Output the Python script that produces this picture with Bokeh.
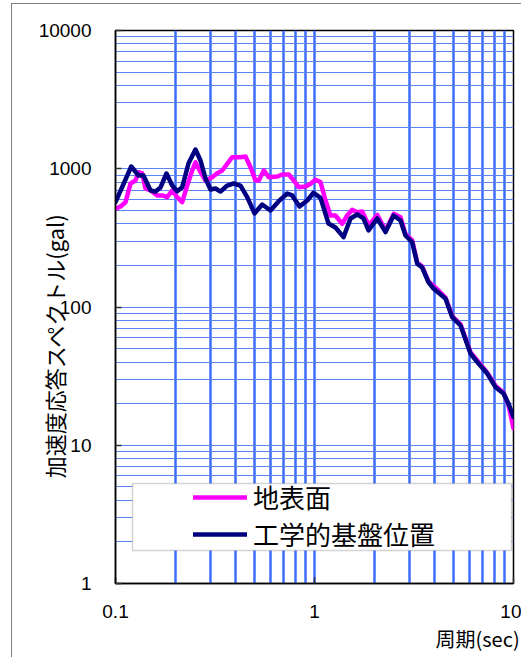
from bokeh.plotting import figure
from bokeh.models import Range1d, FixedTicker, Legend, LegendItem, BoxAnnotation, Title
from bokeh.embed import file_html
from bokeh.resources import INLINE

# ---- data ----
period_surface = [0.100, 0.1060, 0.1123, 0.1190, 0.1260, 0.1305, 0.1362, 0.1415, 0.150, 0.1620,
                  0.1717, 0.1819, 0.1927, 0.2042, 0.2164, 0.2292, 0.2429, 0.2523, 0.2674, 0.2834,
                  0.3061, 0.3244, 0.3438, 0.3642, 0.3859, 0.4247, 0.4501, 0.4769, 0.5052, 0.5249,
                  0.5563, 0.5893, 0.6496, 0.6882, 0.7429, 0.7870, 0.8341, 0.9012, 0.9548, 1.0116,
                  1.072, 1.136, 1.203, 1.275, 1.378, 1.460, 1.547, 1.639, 1.737, 1.875,
                  2.066, 2.275, 2.503, 2.705, 2.866, 3.097, 3.282, 3.477, 3.741, 4.055,
                  4.552, 4.920, 5.418, 6.079, 6.670, 7.378, 8.120, 8.906, 9.438, 10.0]
accel_surface = [513, 533, 573, 782, 822, 944, 924, 720, 696, 641,
                 641, 623, 696, 623, 573, 756, 971, 1115, 944, 822,
                 869, 929, 971, 1086, 1213, 1213, 1227, 1026, 822, 822,
                 971, 869, 879, 908, 908, 822, 736, 744, 778, 832,
                 800, 589, 459, 459, 400, 459, 505, 485, 491, 389,
                 464, 358, 472, 446, 338, 303, 210, 196, 153, 138,
                 117, 86, 75, 47, 40, 33.5, 27, 24, 19.5, 13.2]

period_base = [0.100, 0.120, 0.1305, 0.1382, 0.150, 0.1589, 0.1684, 0.1804, 0.1927, 0.2042,
               0.2164, 0.2327, 0.2523, 0.2674, 0.2834, 0.3001, 0.3181, 0.3371, 0.3642, 0.3917,
               0.4247, 0.4590, 0.4994, 0.5460, 0.6010, 0.6594, 0.7292, 0.7726, 0.8408, 0.9191,
               0.9886, 1.072, 1.176, 1.275, 1.399, 1.517, 1.639, 1.763, 1.868, 2.066,
               2.275, 2.495, 2.705, 2.866, 3.097, 3.282, 3.477, 3.741, 3.963, 4.552,
               4.920, 5.418, 6.079, 6.670, 7.378, 8.120, 8.906, 9.438, 10.0]
accel_base = [573, 1038, 894, 894, 696, 684, 732, 924, 756, 688,
              736, 1091, 1378, 1147, 850, 708, 720, 684, 756, 782,
              756, 623, 475, 551, 499, 580, 662, 641, 533, 589,
              670, 615, 402, 376, 320, 437, 467, 437, 358, 437,
              348, 459, 422, 329, 294, 206, 193, 151, 136, 115,
              84.4, 73.5, 46.1, 39.0, 33.0, 26.3, 23.7, 20.0, 16.0]

series_names = ["地表面", "工学的基盤位置"]
series_colors = ["#ff00ff", "#000080"]

x_major = [0.1, 1.0, 10.0]
x_minor = [0.2, 0.3, 0.4, 0.5, 0.6, 0.7, 0.8, 0.9, 2.0, 3.0, 4.0, 5.0, 6.0, 7.0, 8.0, 9.0]
x_labels = ["0.1", "1", "10"]
y_major = [1.0, 10.0, 100.0, 1000.0, 10000.0]
y_minor = [m * d for d in [1, 10, 100, 1000] for m in [2, 3, 4, 5, 6, 7, 8, 9]]
y_labels = ["1", "10", "100", "1000", "10000"]

x_title = "周期(sec)"
y_title = "加速度応答スペクトル(gal)"

CJK = "Noto Sans CJK JP"

# ---- figure ----
p = figure(width=510, height=654, x_axis_type="log", y_axis_type="log",
           x_range=Range1d(0.1, 10), y_range=Range1d(1, 10000),
           output_backend="svg", toolbar_location=None,
           min_border_left=103, min_border_right=9, min_border_top=26, min_border_bottom=75)
# outer chart-area frame (grey line at left and top)
p.styles = {"margin-top": "3px", "margin-left": "11px",
            "border-top": "1px solid #7f7f7f", "border-left": "1px solid #7f7f7f"}
p.background_fill_color = "white"
p.border_fill_color = "white"
p.outline_line_color = "black"
p.outline_line_width = 1.5

xt = FixedTicker(ticks=x_major, minor_ticks=x_minor)
yt = FixedTicker(ticks=y_major, minor_ticks=y_minor)
p.xaxis.ticker = xt
p.yaxis.ticker = yt
p.xgrid.ticker = xt
p.ygrid.ticker = yt
p.xaxis.major_label_overrides = {float(v): s for v, s in zip(x_major, x_labels)}
p.yaxis.major_label_overrides = {float(v): s for v, s in zip(y_major, y_labels)}

for ax in (p.xaxis, p.yaxis):
    ax.major_tick_in = 6
    ax.major_tick_out = 0
    ax.major_tick_line_color = "#333333"
    ax.major_tick_line_width = 1.5
    ax.minor_tick_line_color = None
    ax.axis_line_color = "black"
    ax.axis_line_width = 1.5
    ax.major_label_text_font = "Liberation Sans"
    ax.major_label_text_font_size = "19px"
    ax.major_label_text_color = "black"
p.yaxis.major_label_standoff = 20
p.xaxis.major_label_standoff = 17

# y title drawn as the axis label, pulled in over the tick labels
p.yaxis.axis_label = y_title + "\u3000\u3000\u3000\u2002"
p.yaxis.axis_label_standoff = -34
p.yaxis.axis_label_text_font = CJK
p.yaxis.axis_label_text_font_size = "22px"
p.yaxis.axis_label_text_font_style = "normal"
p.yaxis.axis_label_text_color = "black"

p.xgrid.grid_line_color = "#3d6dff"
p.xgrid.grid_line_width = 2.5
p.xgrid.minor_grid_line_color = "#3d6dff"
p.xgrid.minor_grid_line_width = 2.5
p.ygrid.grid_line_color = "#5b84f2"
p.ygrid.grid_line_width = 1.2
p.ygrid.minor_grid_line_color = "#5b84f2"
p.ygrid.minor_grid_line_width = 1.2

r1 = p.line(period_surface, accel_surface, line_color=series_colors[0], line_width=4.5,
            line_cap="round", line_join="round")
r2 = p.line(period_base, accel_base, line_color=series_colors[1], line_width=4.5,
            line_cap="round", line_join="round")

box = BoxAnnotation(left=17, right=396, bottom=33, top=100,
                    left_units="screen", right_units="screen",
                    top_units="screen", bottom_units="screen",
                    fill_color="white", fill_alpha=1.0,
                    line_color="#707070", line_width=1.5, editable=False)
p.add_layout(box)

legend = Legend(items=[LegendItem(label=series_names[0], renderers=[r1]),
                       LegendItem(label=series_names[1], renderers=[r2])],
                location=(78, 31), orientation="vertical", padding=0, margin=0,
                border_line_color=None, background_fill_alpha=0.0,
                glyph_width=54, glyph_height=22, label_height=22, spacing=-22,
                label_standoff=6, label_text_font=CJK,
                label_text_font_size="26px", label_text_color="black")
p.add_layout(legend)

p.add_layout(Title(text=x_title, align="left", offset=320, vertical_align="top",
                   standoff=7, text_font=CJK, text_font_size="20px",
                   text_font_style="normal", text_color="black"), "below")

open("out.html", "w").write(file_html(p, INLINE))
